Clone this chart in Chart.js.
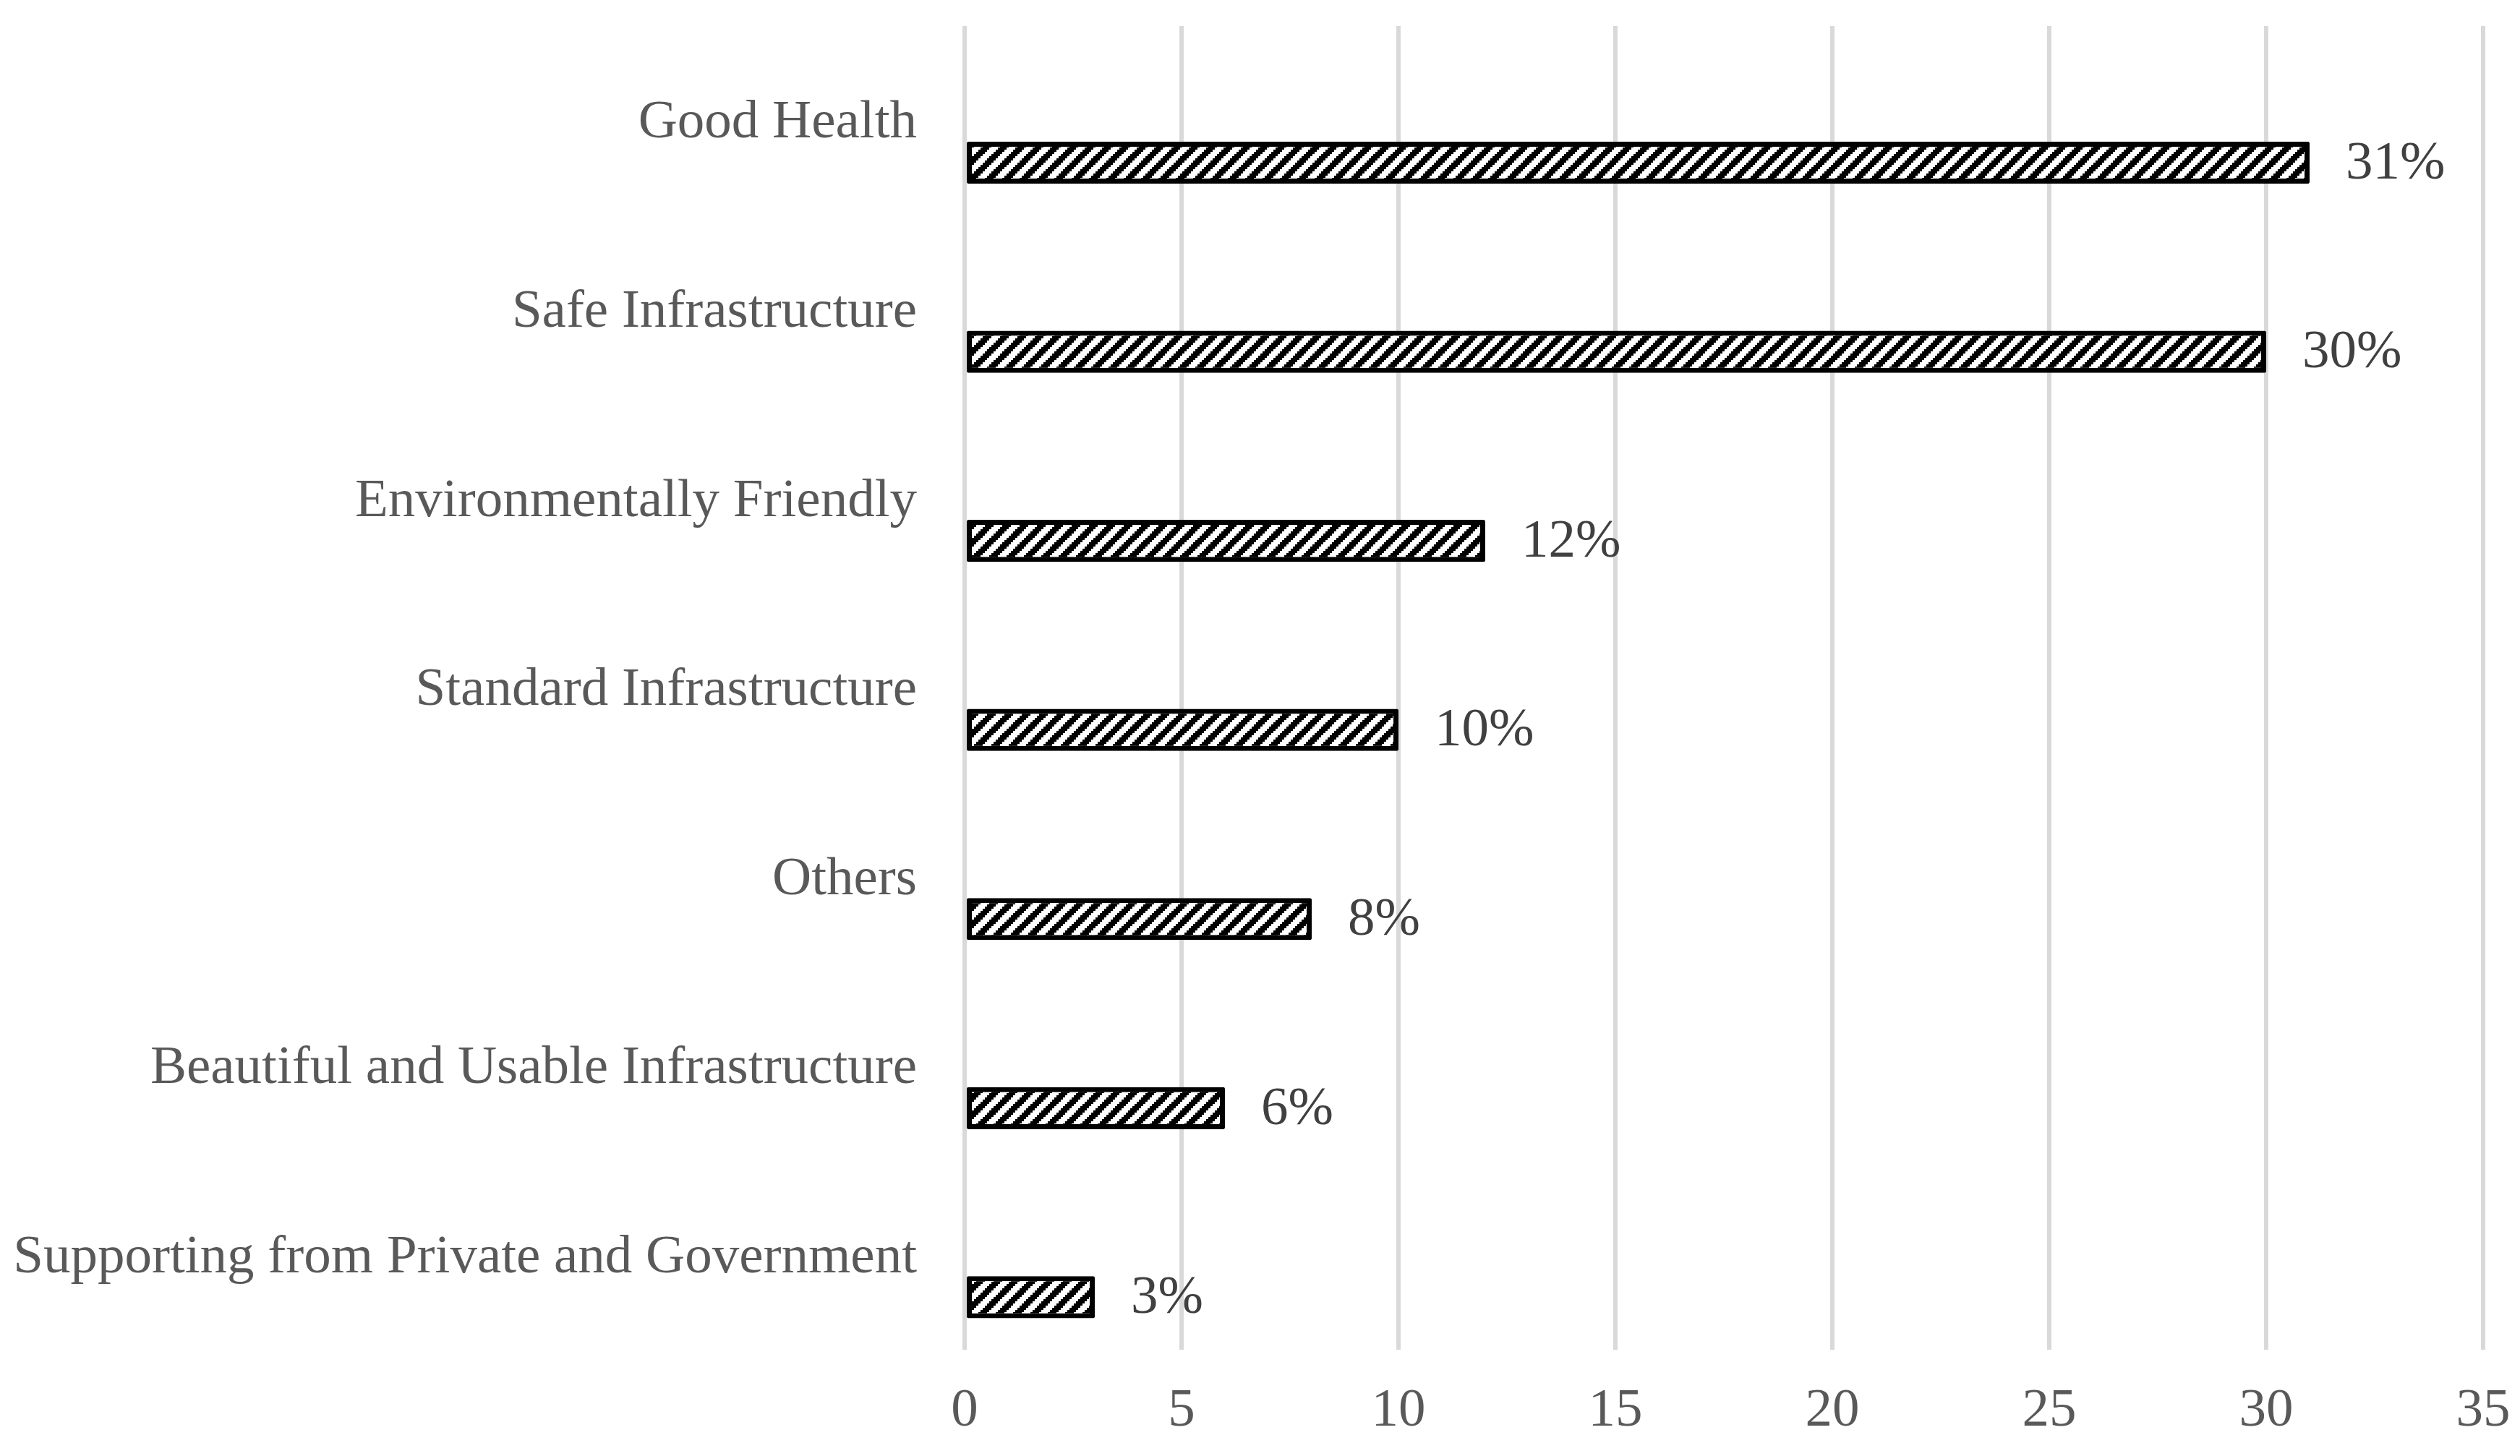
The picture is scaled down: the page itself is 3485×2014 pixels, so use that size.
<!DOCTYPE html>
<html>
<head>
<meta charset="utf-8">
<script src="https://cdn.jsdelivr.net/npm/chart.js@4/dist/chart.umd.min.js"></script>
<style>
  html, body { margin: 0; padding: 0; background: #fff; }
</style>
</head>
<body>
<canvas id="chart" width="3485" height="2014"></canvas>
<script>
const categories = [
    'Good Health',
    'Safe Infrastructure',
    'Environmentally Friendly',
    'Standard Infrastructure',
    'Others',
    'Beautiful and Usable Infrastructure',
    'Supporting from Private and Government'
];
const shares = [31, 30, 12, 10, 8, 6, 3];
// the original sheet had an empty first series, which pushes the bars below the labels
const emptySeries = [null, null, null, null, null, null, null];
const xTickValues = [0, 5, 10, 15, 20, 25, 30, 35];

const serif = '"Liberation Serif", "Times New Roman", serif';

//Wide upward diagonal fill, 8x8 cells blown up 3x
const makeStripes = () => {
    const cell = 3, n = 8;
    const c = document.createElement('canvas');
    c.width = c.height = cell * n;
    const g = c.getContext('2d');
    g.fillStyle = '#fff';
    g.fillRect(0, 0, c.width, c.height);
    g.fillStyle = '#000';
    for (let y = 0; y < n; y++) {
        for (let x = 0; x < n; x++) {
            if ((x + y) % n < 4) g.fillRect(x * cell, y * cell, cell, cell);
        }
    }
    return g.createPattern(c, 'repeat');
};

//Percent text right of each bar
const valueLabels = {
    id: 'valueLabels',
    afterDatasetsDraw(chart) {
        const ctx = chart.ctx;
        const meta = chart.getDatasetMeta(1);
        ctx.save();
        ctx.font = '75px ' + serif;
        ctx.fillStyle = '#404040';
        ctx.textAlign = 'left';
        ctx.textBaseline = 'middle';
        meta.data.forEach((bar, i) => {
            ctx.fillText(shares[i] + '%', bar.x + 50, bar.y + 2);
        });
        ctx.restore();
    }
};

const chart = document.querySelector('#chart').getContext('2d');
new Chart(chart, {
    type: 'bar',
    data: {
        labels: categories,
        datasets: [{
                label: '',
                data: emptySeries
            },
            {
                label: 'Share',
                data: shares,
                backgroundColor: makeStripes(),
                borderColor: '#000',
                borderWidth: 7,
                borderRadius: 2,
                borderSkipped: false
            }
        ]
    },
    options: {
        indexAxis: 'y',
        responsive: false,
        devicePixelRatio: 1,
        animation: false,
        categoryPercentage: 0.89,
        barPercentage: 0.5,
        layout: {
            padding: { top: 36, right: 51, bottom: 0, left: 0 }
        },
        plugins: {
            legend: { display: false },
            tooltip: { enabled: false }
        },
        scales: {
            x: {
                min: 0,
                max: 35,
                afterBuildTicks: s => { s.ticks = xTickValues.map(v => ({ value: v })); },
                afterFit: s => {
                    s.height = 147;
                    s.paddingLeft = 0;
                    s.paddingRight = 0;
                },
                grid: { color: '#d9d9d9', lineWidth: 6, drawTicks: false },
                border: { display: false },
                ticks: {
                    padding: 40,
                    color: '#595959',
                    font: { family: serif, size: 75 }
                }
            },
            y: {
                afterFit: s => {
                    s.width = 1334;
                    s.paddingTop = 0;
                    s.paddingBottom = 0;
                },
                grid: { display: false },
                border: { display: false },
                ticks: {
                    padding: 58,
                    labelOffset: 4,
                    color: '#595959',
                    font: { family: serif, size: 75 }
                }
            }
        }
    },
    plugins: [valueLabels]
});
</script>
</body>
</html>
